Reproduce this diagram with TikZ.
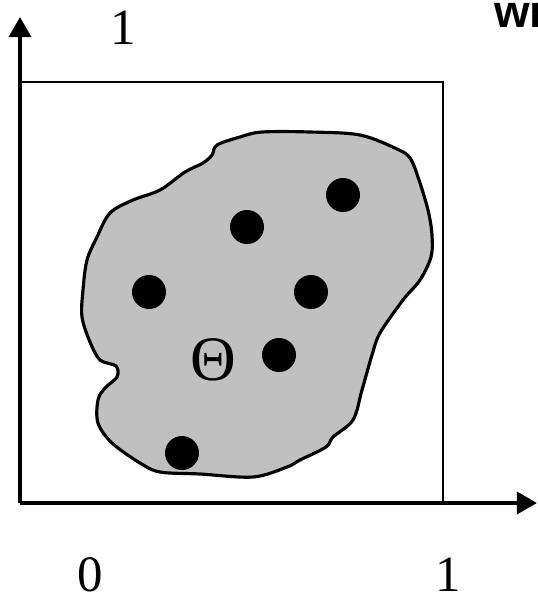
\documentclass[tikz,border=0pt]{standalone}
\usepackage{fontspec}
\setmainfont{Liberation Serif}
\newfontfamily\wifont{Liberation Sans}
\usepackage{tikz}
\usetikzlibrary{positioning,arrows.meta}
\definecolor{blobgray}{RGB}{192,192,192}

\begin{document}
\begin{tikzpicture}[
  x=0.02cm, y=-0.02cm,
  axis/.style={line width=2.3pt, -{Triangle[length=11.5pt,width=12.5pt]}},
  frame/.style={line width=1.2pt},
  dot/.style={circle, fill=black, inner sep=0pt, minimum size=0.68cm},
  num/.style={font=\fontsize{29}{32}\selectfont, inner sep=0pt}
]
  \useasboundingbox (0,0) rectangle (538,596);
  % axes and unit square
  \coordinate (O) at (20,503);
  \coordinate (Xend) at (537,503);
  \coordinate (Yend) at (20,17);
  \draw[frame] (150,82) -- (443,82) -- (443,503);
  \draw[frame] (20,82) -- (85,82);
  \draw[line width=0.6pt] (85,82) -- (150,82);
  % region
  \draw[line width=1.8pt, fill=blobgray] plot[smooth cycle, tension=0.55] coordinates {
    (217,145) (240,137) (262,132) (310,132) (360,135) (397,149) (410,158)
    (418,177) (428,210) (432,235) (431,257) (420,280) (403,300) (380,333)
    (372,355) (362,390) (353,420) (333,437) (326,447) (300,460) (287,467)
    (253,477) (200,474) (160,472) (140,463) (112,443) (98,423) (98,400)
    (105,388) (117,377) (116,366) (100,360) (90,342) (82,317) (83,290)
    (87,260) (97,237) (110,213) (133,200) (160,190) (185,172) (203,163)
    (212,155)};
  \draw[axis] (O) -- (Xend);
  \draw[axis] (O) -- (Yend);
  % points
  \node[dot] (p1) at (343,195) {};
  \node[dot] (p2) at (247,227) {};
  \node[dot] (p3) at (149,292) {};
  \node[dot] (p4) at (311,292) {};
  \node[dot] (p5) at (279,355) {};
  \node[dot] (p6) at (182,453) {};
  \node[font=\fontsize{36}{40}\selectfont, inner sep=0pt] (theta) at (213,360) {Θ};
  % labels
  \node[num] (ytick) at (123,28) {1};
  \node[num] (zero) at (90,575) {0};
  \node[num] (xtick) at (448,575) {1};
  \node[font=\wifont\bfseries\fontsize{26}{30}\selectfont, inner sep=0pt, anchor=north west] (wi) at (494,-6) {wi};
\end{tikzpicture}
\end{document}
